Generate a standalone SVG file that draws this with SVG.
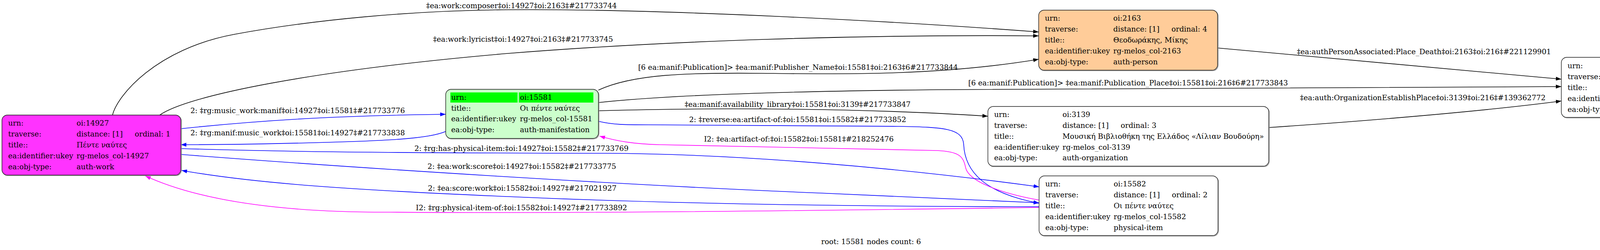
<svg xmlns="http://www.w3.org/2000/svg" width="4461" height="641" viewBox="0 0 4461 641">
<style>
text { font-family: "DejaVu Serif", "Liberation Serif", serif; font-size: 18.67px; fill: #000; }
.lbl { text-anchor: middle; }
.box { stroke: #1a1a1a; stroke-width: 1.4; }
.shadow { fill: none; stroke: #9a9a9a; stroke-width: 1.6; }
.edge { fill: none; stroke-width: 1.6; }
.k { stroke: #000000; }
.b { stroke: #0000ff; }
.m { stroke: #ff00ff; }
</style>
<defs>
<marker id="ak" markerUnits="userSpaceOnUse" markerWidth="14" markerHeight="10" refX="14" refY="5" orient="auto" viewBox="0 0 14 10"><path d="M0,0 L14,5 L0,10 z" fill="#000000"/></marker>
<marker id="ab" markerUnits="userSpaceOnUse" markerWidth="14" markerHeight="10" refX="14" refY="5" orient="auto" viewBox="0 0 14 10"><path d="M0,0 L14,5 L0,10 z" fill="#0000ff"/></marker>
<marker id="am" markerUnits="userSpaceOnUse" markerWidth="14" markerHeight="10" refX="14" refY="5" orient="auto" viewBox="0 0 14 10"><path d="M0,0 L14,5 L0,10 z" fill="#ff00ff"/></marker>
</defs>
<rect x="0" y="0" width="4461" height="641" fill="#ffffff"/>

<g id="edges">
<g id="e-composer"><path class="edge k" marker-end="url(#ak)" d="M288,295 C300,245 400,125 600,88 C800,51 1050,27 1300,25 C1700,22 2300,55 2659,82"/>
<text class="lbl" x="1335" y="20.5">‡ea:work:composer‡oi:14927‡oi:2163‡#217733744</text></g>
<g id="e-lyricist"><path class="edge k" marker-end="url(#ak)" d="M409,295 C480,245 800,180 1300,137 C1700,105 2200,88 2659,92"/>
<text class="lbl" x="1339" y="107">‡ea:work:lyricist‡oi:14927‡oi:2163‡#217733745</text></g>
<g id="e-music-work-manif"><path class="edge b" marker-end="url(#ab)" d="M463,330 C700,305 900,296 1141,293"/>
<text class="lbl" x="762" y="290">2: ‡rg:music_work:manif‡oi:14927‡oi:15581‡#217733776</text></g>
<g id="e-manif-music-work"><path class="edge b" marker-end="url(#ab)" d="M1141,337 C1100,355 1000,361 800,366 C650,370 550,371 463,371"/>
<text class="lbl" x="762" y="346.5">2: ‡rg:manif:music_work‡oi:15581‡oi:14927‡#217733838</text></g>
<g id="e-publisher"><path class="edge k" marker-end="url(#ak)" d="M1532,231 C1620,190 1760,186 1950,188 C2150,190 2400,195 2659,152"/>
<text class="lbl" x="2043" y="179">[6 ea:manif:Publication]&gt; ‡ea:manif:Publisher_Name‡oi:15581‡oi:2163‡6#217733844</text></g>
<g id="e-pubplace"><path class="edge k" marker-end="url(#ak)" d="M1532,263 C1650,250 1900,235 2400,230 C3000,224 3500,222 3997,222"/>
<text class="lbl" x="2888" y="219">[6 ea:manif:Publication]&gt; ‡ea:manif:Publication_Place‡oi:15581‡oi:216‡6#217733843</text></g>
<g id="e-library"><path class="edge k" marker-end="url(#ak)" d="M1532,284 C1800,276 2200,276 2529,298"/>
<text class="lbl" x="2042" y="274">‡ea:manif:availability_library‡oi:15581‡oi:3139‡#217733847</text></g>
<g id="e-reverse-artifact"><path class="edge b" marker-end="url(#ab)" d="M1532,311 C1570,320 1600,320 1660,320 L2300,324 C2420,326 2464,330 2467,370 C2470,440 2520,495 2660,521"/>
<text class="lbl" x="2042" y="313">2: ‡reverse:ea:artifact-of:‡oi:15581‡oi:15582‡#217733852</text></g>
<g id="e-artifact-of"><path class="edge m" marker-end="url(#am)" d="M2660,513 C2560,495 2480,465 2472,430 C2466,400 2455,389 2400,386 L1690,371 C1620,369 1580,362 1535,349"/>
<text class="lbl" x="2045" y="363">I2: ‡ea:artifact-of:‡oi:15582‡oi:15581‡#218252476</text></g>
<g id="e-has-physical"><path class="edge b" marker-end="url(#ab)" d="M463,381 C700,388 900,392 1550,393 C1900,395 2300,430 2660,479"/>
<text class="lbl" x="1335" y="386.5">2: ‡rg:has-physical-item:‡oi:14927‡oi:15582‡#217733769</text></g>
<g id="e-work-score"><path class="edge b" marker-end="url(#ab)" d="M463,396 C900,430 1600,475 2100,495 C2400,507 2550,515 2660,520"/>
<text class="lbl" x="1336" y="433">2: ‡ea:work:score‡oi:14927‡oi:15582‡#217733775</text></g>
<g id="e-score-work"><path class="edge b" marker-end="url(#ab)" d="M2660,530 C2200,530 1700,522 1300,504 C900,487 650,470 465,437"/>
<text class="lbl" x="1337" y="489">2: ‡ea:score:work‡oi:15582‡oi:14927‡#217021927</text></g>
<g id="e-physical-of"><path class="edge m" marker-end="url(#am)" d="M2660,532 C2100,540 1400,548 1000,544 C700,545 500,510 372,451"/>
<text class="lbl" x="1335" y="539">I2: ‡rg:physical-item-of:‡oi:15582‡oi:14927‡#217733892</text></g>
<g id="e-place-death"><path class="edge k" marker-end="url(#ak)" d="M3117,123 L3997,203"/>
<text x="3320" y="139">‡ea:authPersonAssociated:Place_Death‡oi:2163‡oi:216‡#221129901</text></g>
<g id="e-establish"><path class="edge k" marker-end="url(#ak)" d="M3248,327 C3500,310 3800,285 3997,259"/>
<text x="3328" y="257">‡ea:auth:OrganizationEstablishPlace‡oi:3139‡oi:216‡#139362772</text></g>
</g>

<g id="node-14927">
<rect class="shadow" x="6.5" y="296.5" width="458" height="154" rx="14"/>
<rect class="box" x="5" y="295" width="458" height="154" rx="14" fill="#ff33ff"/>
<text x="21" y="322">urn:</text><text x="196" y="322">oi:14927</text>
<text x="21" y="350">traverse:</text><text x="196" y="350">distance: [1]</text><text x="345" y="350">ordinal: 1</text>
<text x="21" y="378">title::</text><text x="196" y="378">Πέντε ναύτες</text>
<text x="21" y="406">ea:identifier:ukey</text><text x="196" y="406">rg-melos_col-14927</text>
<text x="21" y="434">ea:obj-type:</text><text x="196" y="434">auth-work</text>
</g>

<g id="node-15581">
<rect class="shadow" x="1142.5" y="230.5" width="391" height="126" rx="14"/>
<rect class="box" x="1141" y="229" width="391" height="126" rx="14" fill="#ccffcc"/>
<rect x="1153" y="237" width="172" height="26" fill="#00ff00"/>
<rect x="1328" y="237" width="191" height="26" fill="#00ff00"/>
<text x="1155" y="256">urn:</text><text x="1331" y="256">oi:15581</text>
<text x="1155" y="284">title::</text><text x="1331" y="284">Οι πέντε ναύτες</text>
<text x="1155" y="311">ea:identifier:ukey</text><text x="1331" y="311">rg-melos_col-15581</text>
<text x="1155" y="339">ea:obj-type:</text><text x="1331" y="339">auth-manifestation</text>
</g>

<g id="node-2163">
<rect class="shadow" x="2660.5" y="27.5" width="458" height="154" rx="14"/>
<rect class="box" x="2659" y="26" width="458" height="154" rx="14" fill="#ffcc99"/>
<text x="2675" y="53">urn:</text><text x="2850" y="53">oi:2163</text>
<text x="2675" y="81">traverse:</text><text x="2850" y="81">distance: [1]</text><text x="2999" y="81">ordinal: 4</text>
<text x="2675" y="109">title::</text><text x="2850" y="109">Θεοδωράκης, Μίκης</text>
<text x="2675" y="137">ea:identifier:ukey</text><text x="2850" y="137">rg-melos_col-2163</text>
<text x="2675" y="165">ea:obj-type:</text><text x="2850" y="165">auth-person</text>
</g>

<g id="node-3139">
<rect class="shadow" x="2530.5" y="274.5" width="719" height="153" rx="14"/>
<rect class="box" x="2529" y="273" width="719" height="153" rx="14" fill="#ffffff"/>
<text x="2545" y="300">urn:</text><text x="2720" y="300">oi:3139</text>
<text x="2545" y="328">traverse:</text><text x="2720" y="328">distance: [1]</text><text x="2869" y="328">ordinal: 3</text>
<text x="2545" y="356">title::</text><text x="2720" y="356">Μουσική Βιβλιοθήκη της Ελλάδος «Λίλιαν Βουδούρη»</text>
<text x="2545" y="384">ea:identifier:ukey</text><text x="2720" y="384">rg-melos_col-3139</text>
<text x="2545" y="411">ea:obj-type:</text><text x="2720" y="411">auth-organization</text>
</g>

<g id="node-15582">
<rect class="shadow" x="2661.5" y="452.5" width="458" height="153" rx="14"/>
<rect class="box" x="2660" y="451" width="458" height="153" rx="14" fill="#ffffff"/>
<text x="2676" y="478">urn:</text><text x="2851" y="478">oi:15582</text>
<text x="2676" y="506">traverse:</text><text x="2851" y="506">distance: [1]</text><text x="3000" y="506">ordinal: 2</text>
<text x="2676" y="534">title::</text><text x="2851" y="534">Οι πέντε ναύτες</text>
<text x="2676" y="562">ea:identifier:ukey</text><text x="2851" y="562">rg-melos_col-15582</text>
<text x="2676" y="590">ea:obj-type:</text><text x="2851" y="590">physical-item</text>
</g>

<g id="node-216">
<rect class="shadow" x="3998.5" y="148.5" width="458" height="154" rx="14"/>
<rect class="box" x="3997" y="147" width="458" height="154" rx="14" fill="#ffffff"/>
<text x="4013" y="175">urn:</text><text x="4188" y="175">oi:216</text>
<text x="4013" y="203">traverse:</text><text x="4188" y="203">distance: [1]</text><text x="4337" y="203">ordinal: 5</text>
<text x="4013" y="231">title::</text><text x="4188" y="231">Αθήνα</text>
<text x="4013" y="259">ea:identifier:ukey</text><text x="4188" y="259">rg-melos_col-216</text>
<text x="4013" y="287">ea:obj-type:</text><text x="4188" y="287">auth-place</text>
</g>

<g id="title">
<text class="lbl" x="2230" y="626">root: 15581 nodes count: 6</text>
</g>
</svg>
